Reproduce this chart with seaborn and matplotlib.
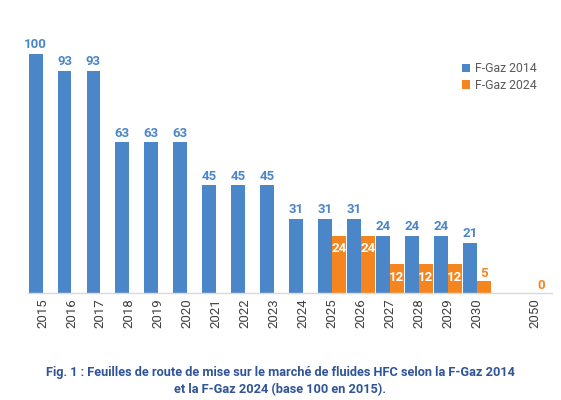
import pandas as pd
import matplotlib
matplotlib.use("Agg")
import matplotlib.pyplot as plt
import seaborn as sns

# ------------------------------------------------------------
# Data
# ------------------------------------------------------------
years = ['2015', '2016', '2017', '2018', '2019', '2020', '2021', '2022',
         '2023', '2024', '2025', '2026', '2027', '2028', '2029', '2030', '2050']
fgaz_2014 = [100, 93, 93, 63, 63, 63, 45, 45, 45, 31, 31, 31, 24, 24, 24, 21, None]
fgaz_2024 = [None, None, None, None, None, None, None, None, None, None,
             24, 24, 12, 12, 12, 5, 0]
series = ['F-Gaz 2014', 'F-Gaz 2024']

BLUE = '#4A86C8'
ORANGE = '#F5861F'
CAPTION = '#2F5597'

rows = []
for y, a, b in zip(years, fgaz_2014, fgaz_2024):
    if a is not None:
        rows.append({'year': y, 'serie': series[0], 'value': a})
    if b is not None:
        rows.append({'year': y, 'serie': series[1], 'value': b})
df = pd.DataFrame(rows)

# empty slot between 2030 and 2050
order = years[:-1] + [' '] + years[-1:]

sns.set_style("white")
plt.rcParams['font.family'] = ['Roboto', 'DejaVu Sans']

fig = plt.figure(figsize=(5.61, 4.0), dpi=100)
ax = fig.add_axes([0.05, 0.2675, 0.934, 0.6575])

sns.barplot(
    data=df, x='year', y='value', hue='serie',
    order=order, hue_order=series,
    palette=[BLUE, ORANGE], width=0.96, gap=0,
    saturation=1, edgecolor='none', ax=ax
)

ax.set_ylim(0, 110)
ax.set_xlim(-0.5, 17.6)

# value labels
blue_bars, orange_bars = ax.containers[0], ax.containers[1]
for bar in blue_bars:
    h = bar.get_height()
    ax.annotate(f"{h:.0f}", (bar.get_x() + bar.get_width() / 2, h),
                xytext=(0, 2), textcoords='offset points',
                ha='center', va='bottom', color=BLUE,
                fontsize=9.5, fontweight='bold')
for bar in orange_bars:
    h = bar.get_height()
    cx = bar.get_x() + bar.get_width() / 2
    if h >= 10:
        ax.annotate(f"{h:.0f}", (cx, h), xytext=(0, -9.5),
                    textcoords='offset points', ha='center', va='center',
                    color='white', fontsize=9.5, fontweight='bold')
    else:
        ax.annotate(f"{h:.0f}", (cx, h), xytext=(0, 1),
                    textcoords='offset points', ha='center', va='bottom',
                    color=ORANGE, fontsize=9.5, fontweight='bold')

ax.set_xlabel("")
ax.set_ylabel("")
ax.set_yticks([])
ax.tick_params(axis='x', length=0, pad=4, labelsize=9.5, labelcolor='#404040',
               rotation=90)
for side in ['top', 'right', 'left']:
    ax.spines[side].set_visible(False)
ax.spines['bottom'].set_color('#D9D9D9')
ax.spines['bottom'].set_linewidth(1)

leg = ax.legend(loc='upper left', bbox_to_anchor=(0.812, 0.86),
                bbox_transform=fig.transFigure, frameon=False,
                fontsize=8.8, handlelength=0.7, handleheight=0.7,
                handletextpad=0.4, labelspacing=0.3, borderpad=0)
for t in leg.get_texts():
    t.set_color('#595959')

fig.text(0.5, 0.048,
         "Fig. 1 : Feuilles de route de mise sur le marché de fluides HFC selon la F-Gaz 2014\n"
         "et la F-Gaz 2024 (base 100 en 2015).",
         ha='center', va='center', color=CAPTION, fontsize=9.2,
         fontweight='bold', linespacing=1.35)

fig.savefig("out.png", dpi=100)
plt.close(fig)
